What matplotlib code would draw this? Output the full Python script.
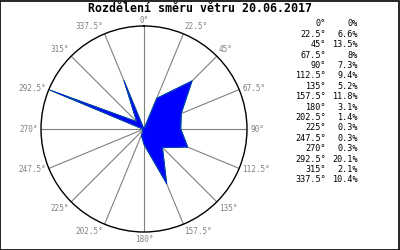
import matplotlib
matplotlib.use("Agg")
import matplotlib.pyplot as plt
import numpy as np

TITLE = "Rozdělení směru větru 20.06.2017"

# wind direction (degrees) and share of measurements (%)
DIRECTIONS = [0, 22.5, 45, 67.5, 90, 112.5, 135, 157.5,
              180, 202.5, 225, 247.5, 270, 292.5, 315, 337.5]
PERCENT = [0, 6.6, 13.5, 8, 7.3, 9.4, 5.2, 11.8,
           3.1, 1.4, 0.3, 0.3, 0.3, 20.1, 2.1, 10.4]
DIR_LABELS = ["0°", "22.5°", "45°", "67.5°", "90°", "112.5°", "135°", "157.5°",
              "180°", "202.5°", "225°", "247.5°", "270°", "292.5°", "315°", "337.5°"]
PCT_LABELS = ["0%", "6.6%", "13.5%", "8%", "7.3%", "9.4%", "5.2%", "11.8%",
              "3.1%", "1.4%", "0.3%", "0.3%", "0.3%", "20.1%", "2.1%", "10.4%"]

FONT = "DejaVu Sans Mono"
GRAY = "#808080"

fig = plt.figure(figsize=(4, 2.5), dpi=100)
fig.patch.set_facecolor("white")

# frame round the whole picture
fig.add_artist(plt.Rectangle((0.0012, 0.002), 0.9975, 0.996, transform=fig.transFigure,
                             fill=False, edgecolor="black", linewidth=1.2))

fig.text(0.5, 0.968, TITLE, ha="center", va="center", fontsize=8.4,
         fontweight="bold", family=FONT)

ax = fig.add_axes([41 / 400, 18 / 250, 206 / 400, 206 / 250], projection="polar")
ax.set_theta_zero_location("N")
ax.set_theta_direction(-1)

rmax = max(PERCENT) * 1.015
theta = np.deg2rad(DIRECTIONS + [DIRECTIONS[0]])
r = PERCENT + [PERCENT[0]]
ax.fill(theta, r, facecolor="#0000ff", edgecolor="#00dd00", linewidth=0.6, zorder=3)
ax.plot(theta, r, color="#0000ff", linewidth=0.5, zorder=4)

ax.set_ylim(0, rmax)
ax.set_yticks([])
ax.set_xticks(np.deg2rad(DIRECTIONS))
ax.set_xticklabels([])
ax.xaxis.grid(True, color=GRAY, linewidth=0.8)
ax.yaxis.grid(False)
ax.spines["polar"].set_color("black")
ax.spines["polar"].set_linewidth(1.0)

# direction labels just outside the circle
for d, lab in zip(DIRECTIONS, DIR_LABELS):
    s, c = np.sin(np.deg2rad(d)), np.cos(np.deg2rad(d))
    ha = "center" if abs(s) < 0.2 else ("left" if s > 0 else "right")
    va = "center" if abs(c) < 0.5 else ("bottom" if c > 0 else "top")
    gap = 1.005 if d == 0 else 1.03
    ax.text(np.deg2rad(d), rmax * gap, lab, ha=ha, va=va, fontsize=5.5,
            family=FONT, color=GRAY, clip_on=False)

# value table on the right
y0 = 1 - 24 / 250
step = 10.4 / 250
for i, (d, p) in enumerate(zip(DIR_LABELS, PCT_LABELS)):
    y = y0 - i * step
    fig.text(326 / 400, y, d, ha="right", va="center", fontsize=6.1, family=FONT)
    fig.text(358 / 400, y, p, ha="right", va="center", fontsize=6.1, family=FONT)

fig.savefig("out.png", dpi=100)
